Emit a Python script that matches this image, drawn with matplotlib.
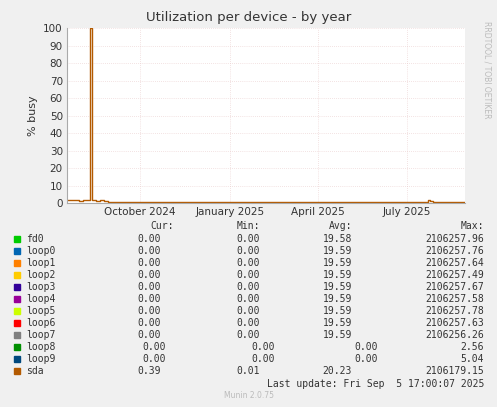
import matplotlib
matplotlib.use("Agg")
import matplotlib.pyplot as plt

# days since 2024-07-19 and sda busy %
sda_days = [0, 4, 8, 12, 16, 20, 23, 24, 26, 27, 30, 34, 38, 42, 46, 50, 60, 70, 80, 90, 100,
            110, 120, 130, 140, 150, 160, 170, 180, 190, 200, 210, 220, 230, 240, 250,
            260, 270, 280, 290, 300, 310, 320, 330, 340, 350, 360, 368, 370, 373, 380,
            390, 400, 405]
sda_vals = [2.0, 1.5, 1.8, 1.4, 1.6, 1.7, 100, 100, 1.5, 2.0, 1.2, 1.8, 1.4, 0.8, 0.6, 0.5, 0.7,
            0.6, 0.8, 0.6, 0.5, 0.7, 0.5, 0.4, 0.5, 0.6, 0.8, 0.5, 0.6, 0.7, 0.5, 0.6, 0.4,
            0.5, 0.4, 0.5, 0.4, 0.5, 0.6, 0.4, 0.5, 0.4, 0.5, 0.4, 0.5, 0.4, 0.5, 1.8, 0.9,
            0.5, 0.4, 0.4, 0.3, 0.3]

tick_days = [74, 166, 256, 347]
tick_labels = ["October 2024", "January 2025", "April 2025", "July 2025"]

devices = ["fd0", "loop0", "loop1", "loop2", "loop3", "loop4", "loop5", "loop6", "loop7",
           "loop8", "loop9", "sda"]
colors = ["#00cc00", "#0066b3", "#ff8000", "#ffcc00", "#330099", "#990099", "#ccff00",
          "#ff0000", "#808080", "#008f00", "#00487d", "#b35a00"]
cur = ["0.00"] * 11 + ["0.39"]
mins = ["0.00"] * 11 + ["0.01"]
avgs = ["19.58"] + ["19.59"] * 8 + ["0.00", "0.00", "20.23"]
maxs = ["2106257.96", "2106257.76", "2106257.64", "2106257.49", "2106257.67", "2106257.58",
        "2106257.78", "2106257.63", "2106256.26", "2.56", "5.04", "2106179.15"]

W, H = 497, 407
fig = plt.figure(figsize=(W / 100, H / 100), dpi=100, facecolor="#f0f0f0")
ax = fig.add_axes([67 / W, 1 - 203 / H, 398 / W, 175 / H], facecolor="white")

ax.step(sda_days, sda_vals, where="post", color=colors[-1], lw=1)
ax.set_xlim(0, 406)
ax.set_ylim(0, 100)
ax.set_yticks(range(0, 101, 10))
ax.set_xticks(tick_days)
ax.set_xticklabels(tick_labels)
ax.tick_params(labelsize=7.5, colors="#333333", length=0, pad=3)
ax.grid(True, color="#e8c8c8", ls=(0, (1, 2)), lw=0.5)
for s in ["top", "right"]:
    ax.spines[s].set_visible(False)
for s in ["left", "bottom"]:
    ax.spines[s].set_color("#aaaaaa")
ax.set_ylabel("% busy", fontsize=8, color="#333333")
fig.text(0.5, 1 - 18 / H, "Utilization per device - by year", ha="center", va="center",
         fontsize=9.5, color="#333333")
fig.text(1 - 10 / W, 1 - 70 / H, "RRDTOOL / TOBI OETIKER", rotation=270, ha="center",
         va="center", fontsize=5.5, color="#bbbbbb")

mono = dict(family="DejaVu Sans Mono", fontsize=7, color="#333333")
y0 = 226
for x, t in [(174, "Cur:"), (260, "Min:"), (352, "Avg:"), (484, "Max:")]:
    fig.text(x / W, 1 - y0 / H, t, ha="right", va="center", **mono)
for i, d in enumerate(devices):
    y = 1 - (y0 + 13 + i * 12.0) / H
    fig.patches.append(plt.Rectangle((14 / W, y - 3 / H), 6 / W, 6 / H,
                                     transform=fig.transFigure, color=colors[i]))
    fig.text(26 / W, y, d, ha="left", va="center", **mono)
    off = 5 if i in (9, 10) else 0
    fig.text((161 + off) / W, y, cur[i], ha="right", va="center", **mono)
    fig.text((260 + off * 3) / W, y, mins[i], ha="right", va="center", **mono)
    fig.text((378 if i in (9, 10) else 352) / W, y, avgs[i], ha="right", va="center", **mono)
    fig.text(484 / W, y, maxs[i], ha="right", va="center", **mono)
fig.text(484 / W, 1 - 384 / H, "Last update: Fri Sep  5 17:00:07 2025", ha="right",
         va="center", **mono)
fig.text(0.5, 1 - 396 / H, "Munin 2.0.75", ha="center", va="center", fontsize=5.5,
         color="#bbbbbb")

fig.savefig("out.png", dpi=100, facecolor=fig.get_facecolor())
